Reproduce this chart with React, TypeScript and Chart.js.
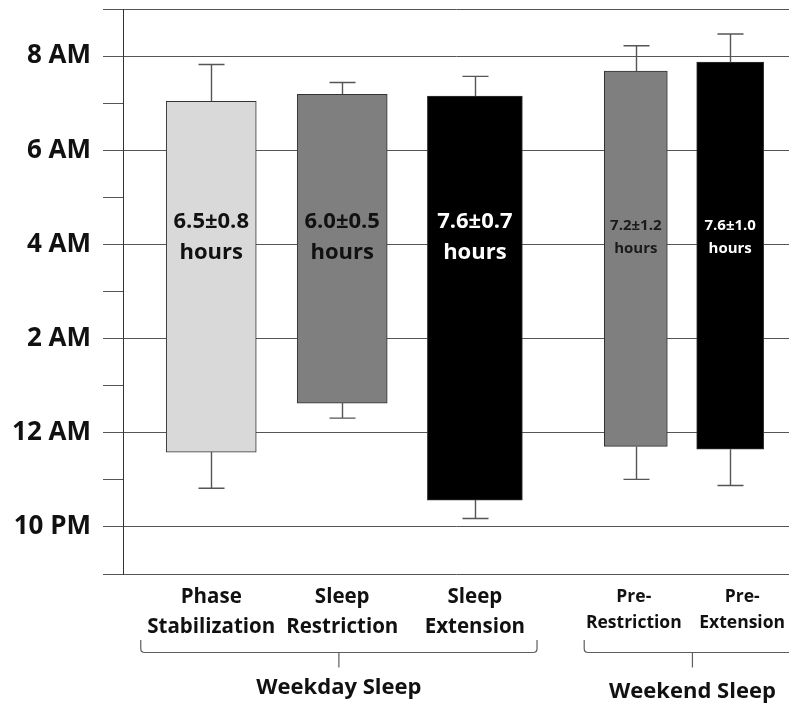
import React, { useEffect, useRef } from "react";
import { Chart, registerables } from "chart.js";

Chart.register(...registerables);

// ---------- data ----------
const categories: string[][] = [
  ["Phase", "Stabilization"],
  ["Sleep", "Restriction"],
  ["Sleep", "Extension"],
  ["Pre-", "Restriction"],
  ["Pre-", "Extension"],
];
// clock times expressed as hours relative to midnight (negative = previous evening)
const bedtime = [-0.41, 0.63, -1.43, -0.29, -0.35];
const waketime = [7.04, 7.19, 7.15, 7.68, 7.87];
const bedtimeSD = [0.77, 0.32, 0.39, 0.7, 0.77];
const waketimeSD = [0.78, 0.25, 0.42, 0.54, 0.6];
const sleepDuration = ["6.5±0.8", "6.0±0.5", "7.6±0.7", "7.2±1.2", "7.6±1.0"];
const durationUnit = "hours";
const groupNames = ["Weekday Sleep", "Weekend Sleep"];
const yTickHours = [-2, 0, 2, 4, 6, 8];
const yTickLabels = ["10 PM", "12 AM", "2 AM", "4 AM", "6 AM", "8 AM"];

// ---------- layout / style ----------
const Y_MIN = -3;
const Y_MAX = 9;
const X_MAX = 12;
const X_SLOTS = [1.59, 3.95, 6.34, 9.24, 10.94];
const BAR_WIDTHS = [90, 90, 95, 63, 67];
const BAR_COLORS = ["#d9d9d9", "#7f7f7f", "#000000", "#7f7f7f", "#000000"];
const TEXT_COLORS = ["#111111", "#111111", "#ffffff", "#1a1a1a", "#ffffff"];
const TEXT_SIZES = [22, 22, 22, 15, 15];
const TEXT_GAPS = [31, 31, 31, 23, 23];
const LABEL_HOUR = 4.15;
const XLABEL_SIZES = [20.5, 20.5, 20.5, 17.5, 17.5];
const XLABEL_SHIFT = [0, 0, 0, -2, 12];
const XLABEL_LINES = [
  [23, 53],
  [23, 53],
  [23, 53],
  [23, 49],
  [23, 49],
];
const BRACES = [
  { from: 0.32, to: 7.46, center: 3.89, textY: 114 },
  { from: 8.31, to: 12.3, center: 10.26, textY: 118 },
];
const FONT = "'Open Sans', Lato, sans-serif";

const overlayPlugin = {
  id: "overlay",
  afterDatasetsDraw(chart: any) {
    const ctx = chart.ctx as CanvasRenderingContext2D;
    const xs = chart.scales.x;
    const ys = chart.scales.y;
    const bottom = chart.chartArea.bottom;
    ctx.save();

    // error bars (outer side only)
    ctx.strokeStyle = "#555555";
    ctx.lineWidth = 1.4;
    categories.forEach((_, i) => {
      const cx = Math.round(xs.getPixelForValue(X_SLOTS[i])) + 0.5;
      const top = ys.getPixelForValue(waketime[i]);
      const upCap = ys.getPixelForValue(waketime[i] + waketimeSD[i]);
      const bot = ys.getPixelForValue(bedtime[i]);
      const lowCap = ys.getPixelForValue(bedtime[i] - bedtimeSD[i]);
      ctx.beginPath();
      ctx.moveTo(cx, top);
      ctx.lineTo(cx, upCap);
      ctx.moveTo(cx - 13, upCap);
      ctx.lineTo(cx + 13, upCap);
      ctx.moveTo(cx, bot);
      ctx.lineTo(cx, lowCap);
      ctx.moveTo(cx - 13, lowCap);
      ctx.lineTo(cx + 13, lowCap);
      ctx.stroke();
    });

    // duration labels inside bars
    ctx.textAlign = "center";
    ctx.textBaseline = "middle";
    categories.forEach((_, i) => {
      const cx = xs.getPixelForValue(X_SLOTS[i]);
      const cy = ys.getPixelForValue(LABEL_HOUR);
      ctx.fillStyle = TEXT_COLORS[i];
      ctx.font = `bold ${TEXT_SIZES[i]}px ${FONT}`;
      ctx.fillText(sleepDuration[i], cx, cy - TEXT_GAPS[i] / 2);
      ctx.fillText(durationUnit, cx, cy + TEXT_GAPS[i] / 2);
    });

    // category labels
    ctx.fillStyle = "#111111";
    categories.forEach((lines, i) => {
      const cx = xs.getPixelForValue(X_SLOTS[i]) + XLABEL_SHIFT[i];
      ctx.font = `bold ${XLABEL_SIZES[i]}px ${FONT}`;
      lines.forEach((t, k) => {
        ctx.fillText(t, cx, bottom + XLABEL_LINES[i][k]);
      });
    });

    // braces + group labels
    ctx.strokeStyle = "#5e5e5e";
    ctx.lineWidth = 1.2;
    BRACES.forEach((b, g) => {
      const x0 = xs.getPixelForValue(b.from);
      const x1 = xs.getPixelForValue(b.to);
      const xc = xs.getPixelForValue(b.center);
      const yTop = bottom + 66;
      const yH = bottom + 78.5;
      ctx.beginPath();
      ctx.moveTo(x0, yTop);
      ctx.lineTo(x0, yH - 4);
      ctx.quadraticCurveTo(x0, yH, x0 + 4, yH);
      ctx.lineTo(x1 - 4, yH);
      ctx.quadraticCurveTo(x1, yH, x1, yH - 4);
      ctx.lineTo(x1, yTop);
      ctx.moveTo(xc, yH);
      ctx.lineTo(xc, yH + 15);
      ctx.stroke();
      ctx.font = `bold 22px ${FONT}`;
      ctx.fillStyle = "#111111";
      ctx.fillText(groupNames[g], xc, bottom + b.textY);
    });

    ctx.restore();
  },
};

export default function App() {
  const canvasRef = useRef<HTMLCanvasElement | null>(null);

  useEffect(() => {
    if (!canvasRef.current) return;
    const datasets = categories.map((c, i) => ({
      label: c.join(" "),
      data: [{ x: X_SLOTS[i], y: [bedtime[i], waketime[i]] }],
      backgroundColor: BAR_COLORS[i],
      borderColor: "#333333",
      borderWidth: 1,
      borderSkipped: false,
      barThickness: BAR_WIDTHS[i],
      grouped: false,
    }));

    const chart = new Chart(canvasRef.current, {
      type: "bar",
      data: { datasets } as any,
      options: {
        animation: false,
        responsive: false,
        layout: { padding: { top: 9, left: 0, right: 0, bottom: 0 } },
        plugins: {
          legend: { display: false },
          tooltip: { enabled: false },
        },
        scales: {
          x: {
            type: "linear",
            min: 0,
            max: X_MAX,
            offset: false,
            ticks: { display: false },
            grid: { display: false },
            border: { display: false },
            afterFit: (s: any) => {
              s.height = 133;
              s.paddingLeft = 0;
              s.paddingRight = 0;
            },
          },
          y: {
            type: "linear",
            min: Y_MIN,
            max: Y_MAX,
            ticks: {
              stepSize: 1,
              autoSkip: false,
              padding: 12,
              color: "#111111",
              font: { family: FONT, size: 26, weight: "bold" },
              callback: (v: any) => {
                const idx = yTickHours.indexOf(Number(v));
                return idx >= 0 ? yTickLabels[idx] : "";
              },
            },
            grid: {
              color: (ctx: any) => {
                const v = ctx.tick ? ctx.tick.value : 0;
                return yTickHours.includes(v) || v === Y_MIN || v === Y_MAX
                  ? "#555555"
                  : "rgba(0,0,0,0)";
              },
              tickColor: "#555555",
              tickLength: 20,
              lineWidth: 1,
            },
            border: { display: true, color: "#333333", width: 1 },
            afterFit: (s: any) => {
              s.width = 123;
              s.paddingTop = 0;
              s.paddingBottom = 0;
            },
          },
        },
      } as any,
      plugins: [overlayPlugin],
    });
    return () => chart.destroy();
  }, []);

  return (
    <div style={{ position: "absolute", left: 0, top: 0, width: 789, height: 707, background: "#fff" }}>
      <canvas ref={canvasRef} width={789} height={707} />
    </div>
  );
}
